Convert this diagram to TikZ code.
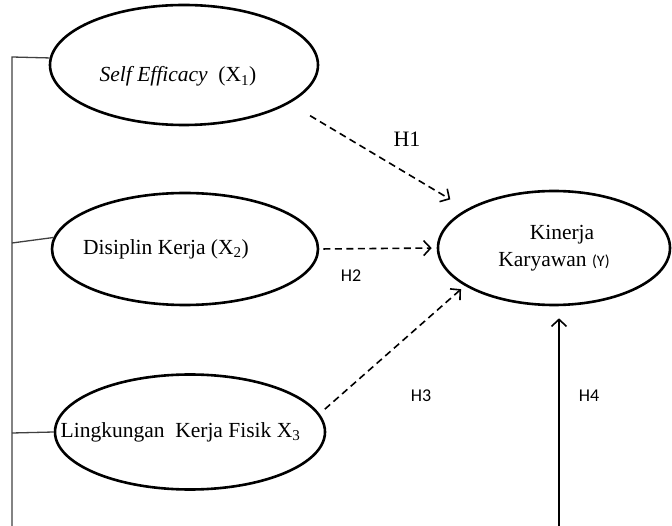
\documentclass[tikz,border=0pt]{standalone}
\usepackage{fontspec}
\setmainfont{Liberation Serif}
\newfontfamily\hfont{Carlito}
\usetikzlibrary{shapes.geometric, arrows.meta}

\begin{document}
\begin{tikzpicture}[x=1pt, y=-1pt,
	construct/.style={draw, ellipse, line width=2.6pt, inner sep=0pt, font=\fontsize{21.5}{27}\selectfont},
	hypLabel/.style={font=\hfont\fontsize{18}{20}\selectfont},
	hypArrow/.style={-{Straight Barb[length=7pt,width=15pt]}, line width=1.6pt, dash pattern=on 7pt off 4.5pt},
	frameLine/.style={draw=black!75, line width=1.3pt}]
	\useasboundingbox (0,0) rectangle (672,526);

	\node[construct, minimum width=268pt, minimum height=120pt] (selfEff) at (184,65) {\makebox[0pt]{\raisebox{-17pt}[0pt][0pt]{\textit{Self Efficacy}\ \ (X\textsubscript{1})}\hspace{12pt}}};
	\node[construct, minimum width=266pt, minimum height=112pt] (disiplin) at (185,249) {\makebox[0pt]{Disiplin Kerja (X\textsubscript{2})\hspace{38pt}}};
	\node[construct, minimum width=270pt, minimum height=115pt] (lingkungan) at (190,432) {\makebox[0pt]{Lingkungan\ \ Kerja Fisik X\textsubscript{3}\hspace{19pt}}};
	\node[construct, minimum width=232pt, minimum height=114pt, align=center] (kinerja) at (554,248) {\hspace*{16pt}Kinerja\\Karyawan {\hfont\fontsize{16}{18}\selectfont(Y)}};

	\coordinate (tapOne) at (12,57);
	\coordinate (tapTwo) at (12,243);
	\coordinate (tapThree) at (12,433);
	\coordinate (frameEnd) at (12,526);
	\coordinate (hFourStart) at (559,526);

	\draw[frameLine] (selfEff.177) -- (tapOne) -- (frameEnd);
	\draw[frameLine] (tapTwo) -- (disiplin.175);
	\draw[frameLine] (tapThree) -- (lingkungan.west);

	\draw[hypArrow, shorten <=24pt, shorten >=19pt] (selfEff.-20) -- (kinerja.156);
	\draw[hypArrow, shorten <=4pt, shorten >=5pt] (disiplin.east) -- (kinerja.west);
	\draw[hypArrow, shorten <=7pt, shorten >=5pt] (lingkungan.8) -- (kinerja.203);
	\draw[-{Straight Barb[length=7pt,width=15pt]}, line width=1.6pt, shorten >=12pt] (hFourStart) -- (hFourStart |- kinerja.south);

	\node[font=\fontsize{22}{24}\selectfont] (hOne) at (407,139) {H1};
	\node[hypLabel] (hTwo) at (351,276) {H2};
	\node[hypLabel] (hThree) at (421,396) {H3};
	\node[hypLabel] (hFour) at (589,396) {H4};
\end{tikzpicture}
\end{document}
